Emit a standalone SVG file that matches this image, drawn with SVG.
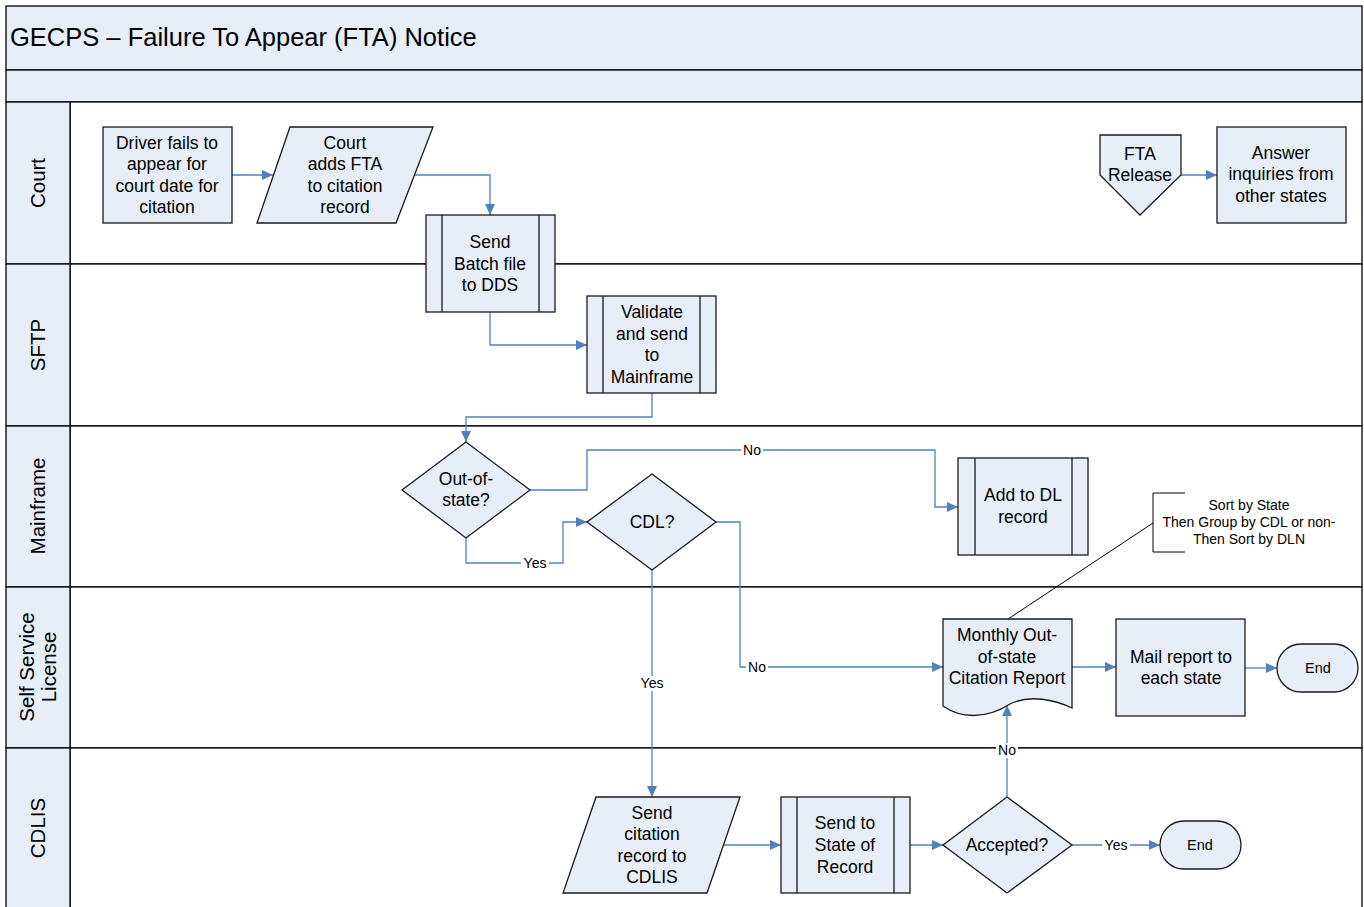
<svg xmlns="http://www.w3.org/2000/svg" width="1364" height="907" viewBox="0 0 1364 907">
<style>
.band{fill:#E7EEF8;stroke:#000;stroke-width:1.3}
.lane{fill:#fff;stroke:#000;stroke-width:1.3}
.hdr{fill:#E7EEF8;stroke:#000;stroke-width:1.3}
.shape{fill:#E7EEF8;stroke:#1a1a1a;stroke-width:1.3}
.inner{fill:none;stroke:#1a1a1a;stroke-width:1.3}
.t{font-family:"Liberation Sans",Arial,sans-serif;font-size:17.5px;fill:#000;text-anchor:middle}
.lt{font-family:"Liberation Sans",Arial,sans-serif;font-size:20.5px;fill:#000;text-anchor:middle}
.sm{font-family:"Liberation Sans",Arial,sans-serif;font-size:14px;fill:#000;text-anchor:middle}
.end{font-family:"Liberation Sans",Arial,sans-serif;font-size:14.5px;fill:#000;text-anchor:middle}
.c{fill:none;stroke:#4F81BD;stroke-width:1.3}
.lab{font-family:"Liberation Sans",Arial,sans-serif;font-size:14px;fill:#000;text-anchor:middle}
</style>
<defs>
<marker id="ah" markerUnits="userSpaceOnUse" markerWidth="12" markerHeight="10" refX="11" refY="5" orient="auto">
<path d="M0,0 L11,5 L0,10 z" fill="#4F81BD"/>
</marker>
</defs>
<rect x="0" y="0" width="1364" height="907" fill="#fff"/>
<g id="pool">
<rect class="band" x="6" y="6" width="1356" height="64"/>
<text x="10" y="46" font-family="Liberation Sans, Arial, sans-serif" font-size="25.5" fill="#000">GECPS – Failure To Appear (FTA) Notice</text>
<rect class="band" x="6" y="70" width="1356" height="32"/>
</g>
<g id="lanes">
<rect class="lane" x="70" y="102" width="1292" height="162"/>
<rect class="lane" x="70" y="264" width="1292" height="162"/>
<rect class="lane" x="70" y="426" width="1292" height="161"/>
<rect class="lane" x="70" y="587" width="1292" height="161"/>
<rect class="lane" x="70" y="748" width="1292" height="165"/>
<rect class="hdr" x="6" y="102" width="64" height="162"/>
<rect class="hdr" x="6" y="264" width="64" height="162"/>
<rect class="hdr" x="6" y="426" width="64" height="161"/>
<rect class="hdr" x="6" y="587" width="64" height="161"/>
<rect class="hdr" x="6" y="748" width="64" height="165"/>
<text class="lt" transform="translate(45,183) rotate(-90)">Court</text>
<text class="lt" transform="translate(45,345) rotate(-90)">SFTP</text>
<text class="lt" transform="translate(45,506) rotate(-90)">Mainframe</text>
<text class="lt" transform="translate(34,667) rotate(-90)">Self Service</text>
<text class="lt" transform="translate(56,667) rotate(-90)">License</text>
<text class="lt" transform="translate(45,828) rotate(-90)">CDLIS</text>
</g>
<g id="connectors">
<path class="c" d="M232,175 H273" marker-end="url(#ah)"/>
<path class="c" d="M414,175 H490 V215" marker-end="url(#ah)"/>
<path class="c" d="M490,312 V345 H587" marker-end="url(#ah)"/>
<path class="c" d="M652,393 V417 H466 V442" marker-end="url(#ah)"/>
<path class="c" d="M530,490 H587 V450 H935 V507 H958" marker-end="url(#ah)"/>
<path class="c" d="M466,538 V563 H563 V522 H587" marker-end="url(#ah)"/>
<path class="c" d="M716,522 H740 V667 H943" marker-end="url(#ah)"/>
<path class="c" d="M652,570 V797" marker-end="url(#ah)"/>
<path class="c" d="M1072,667 H1116" marker-end="url(#ah)"/>
<path class="c" d="M1245,668 H1277" marker-end="url(#ah)"/>
<path class="c" d="M723,845 H781" marker-end="url(#ah)"/>
<path class="c" d="M910,845 H943" marker-end="url(#ah)"/>
<path class="c" d="M1007,797 V705" marker-end="url(#ah)"/>
<path class="c" d="M1072,845 H1160" marker-end="url(#ah)"/>
<path class="c" d="M1181,175 H1217" marker-end="url(#ah)"/>
<path d="M1008,619 L1153,523" fill="none" stroke="#000" stroke-width="1"/>
<rect x="741" y="442" width="22" height="15" fill="#fff"/>
<text class="lab" x="752" y="455">No</text>
<rect x="521" y="556" width="28" height="15" fill="#fff"/>
<text class="lab" x="535" y="568">Yes</text>
<rect x="746" y="660" width="22" height="15" fill="#fff"/>
<text class="lab" x="757" y="672">No</text>
<rect x="638" y="676" width="28" height="15" fill="#fff"/>
<text class="lab" x="652" y="688">Yes</text>
<rect x="996" y="743" width="22" height="15" fill="#fff"/>
<text class="lab" x="1007" y="755">No</text>
<rect x="1102" y="838" width="28" height="15" fill="#fff"/>
<text class="lab" x="1116" y="850">Yes</text>
</g>
<g id="driver">
<rect class="shape" x="103" y="127" width="129" height="96"/>
<text class="t" x="167" y="149">Driver fails to</text>
<text class="t" x="167" y="170">appear for</text>
<text class="t" x="167" y="192">court date for</text>
<text class="t" x="167" y="213">citation</text>
</g>
<g id="court-adds">
<path class="shape" d="M290,127 H433 L396,223 H257 Z"/>
<text class="t" x="345" y="149">Court</text>
<text class="t" x="345" y="170">adds FTA</text>
<text class="t" x="345" y="192">to citation</text>
<text class="t" x="345" y="213">record</text>
</g>
<g id="send-batch">
<rect class="shape" x="426" y="215" width="129" height="97"/>
<path class="inner" d="M442,215 V312 M539,215 V312"/>
<text class="t" x="490" y="248">Send</text>
<text class="t" x="490" y="270">Batch file</text>
<text class="t" x="490" y="291">to DDS</text>
</g>
<g id="validate">
<rect class="shape" x="587" y="296" width="129" height="97"/>
<path class="inner" d="M603,296 V393 M700,296 V393"/>
<text class="t" x="652" y="318">Validate</text>
<text class="t" x="652" y="340">and send</text>
<text class="t" x="652" y="361">to</text>
<text class="t" x="652" y="383">Mainframe</text>
</g>
<g id="out-of-state">
<path class="shape" d="M466,442 L530,490 L466,538 L402,490 Z"/>
<text class="t" x="466" y="485">Out-of-</text>
<text class="t" x="466" y="506">state?</text>
</g>
<g id="cdl">
<path class="shape" d="M652,474 L716,522 L652,570 L587,522 Z"/>
<text class="t" x="652" y="528">CDL?</text>
</g>
<g id="add-dl">
<rect class="shape" x="958" y="458" width="130" height="97"/>
<path class="inner" d="M975,458 V555 M1072,458 V555"/>
<text class="t" x="1023" y="501">Add to DL</text>
<text class="t" x="1023" y="523">record</text>
</g>
<g id="annotation">
<path d="M1185,493 H1153 V552 H1185" fill="none" stroke="#000" stroke-width="1"/>
<text class="sm" x="1249" y="510">Sort by State</text>
<text class="sm" x="1249" y="527">Then Group by CDL or non-</text>
<text class="sm" x="1249" y="544">Then Sort by DLN</text>
</g>
<g id="monthly-report">
<path class="shape" d="M943,619 H1072 V708 C1055,700 1030,694 1010,704 C985,720 960,718 943,706 Z"/>
<text class="t" x="1007" y="641">Monthly Out-</text>
<text class="t" x="1007" y="663">of-state</text>
<text class="t" x="1007" y="684">Citation Report</text>
</g>
<g id="mail-report">
<rect class="shape" x="1116" y="619" width="129" height="97"/>
<text class="t" x="1181" y="663">Mail report to</text>
<text class="t" x="1181" y="684">each state</text>
</g>
<g id="end1">
<rect class="shape" x="1277" y="644" width="81" height="48" rx="24" ry="24"/>
<text class="end" x="1318" y="673">End</text>
</g>
<g id="send-citation">
<path class="shape" d="M596,797 H740 L707,893 H563 Z"/>
<text class="t" x="652" y="819">Send</text>
<text class="t" x="652" y="840">citation</text>
<text class="t" x="652" y="862">record to</text>
<text class="t" x="652" y="883">CDLIS</text>
</g>
<g id="send-state">
<rect class="shape" x="781" y="797" width="129" height="96"/>
<path class="inner" d="M797,797 V893 M894,797 V893"/>
<text class="t" x="845" y="829">Send to</text>
<text class="t" x="845" y="851">State of</text>
<text class="t" x="845" y="873">Record</text>
</g>
<g id="accepted">
<path class="shape" d="M1007,797 L1072,845 L1007,893 L943,845 Z"/>
<text class="t" x="1007" y="851">Accepted?</text>
</g>
<g id="end2">
<rect class="shape" x="1160" y="821" width="81" height="48" rx="24" ry="24"/>
<text class="end" x="1200" y="850">End</text>
</g>
<g id="fta-release">
<path class="shape" d="M1100,135 H1181 V175 L1140,215 L1100,175 Z"/>
<text class="t" x="1140" y="160">FTA</text>
<text class="t" x="1140" y="181">Release</text>
</g>
<g id="answer">
<rect class="shape" x="1217" y="127" width="129" height="96"/>
<text class="t" x="1281" y="159">Answer</text>
<text class="t" x="1281" y="180">inquiries from</text>
<text class="t" x="1281" y="202">other states</text>
</g>
</svg>
